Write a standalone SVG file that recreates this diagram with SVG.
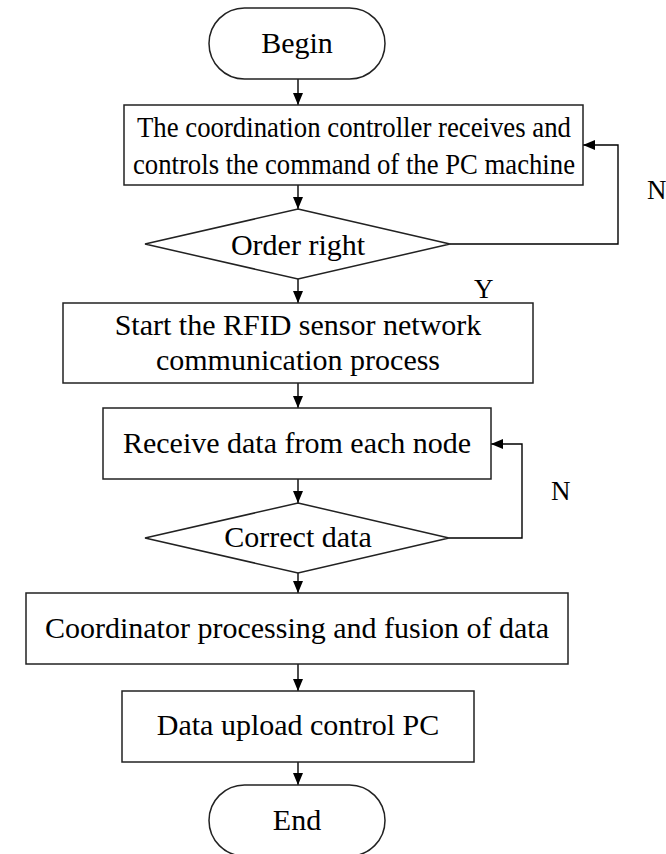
<svg xmlns="http://www.w3.org/2000/svg" width="666" height="854" viewBox="0 0 666 854">
<style>
.n{fill:#fff;stroke:#222;stroke-width:1.5}
.c{fill:none;stroke:#000;stroke-width:1.4}
text{font-family:"Liberation Serif","Times New Roman",serif;font-size:30px;fill:#000;text-anchor:middle}
.l{font-size:27px;text-anchor:start}
.s{font-size:29px}
</style>
<defs>
<marker id="ah" viewBox="0 0 12 10" refX="12" refY="5" markerWidth="12" markerHeight="10" markerUnits="userSpaceOnUse" orient="auto">
<path d="M0,0 L12,5 L0,10 Z" fill="#000"/>
</marker>
</defs>
<rect width="666" height="854" fill="#fff"/>
<g id="connectors">
<line class="c" x1="298" y1="79" x2="298" y2="105" marker-end="url(#ah)"/>
<line class="c" x1="298" y1="185" x2="298" y2="209" marker-end="url(#ah)"/>
<line class="c" x1="298" y1="279" x2="298" y2="303" marker-end="url(#ah)"/>
<line class="c" x1="298" y1="383" x2="298" y2="408" marker-end="url(#ah)"/>
<line class="c" x1="298" y1="479" x2="298" y2="503" marker-end="url(#ah)"/>
<line class="c" x1="298" y1="573" x2="298" y2="593" marker-end="url(#ah)"/>
<line class="c" x1="298" y1="664" x2="298" y2="691" marker-end="url(#ah)"/>
<line class="c" x1="298" y1="762" x2="298" y2="785" marker-end="url(#ah)"/>
<polyline class="c" points="450,244 618,244 618,145 583,145" marker-end="url(#ah)"/>
<polyline class="c" points="449,538 522,538 522,444 491,444" marker-end="url(#ah)"/>
<text class="l" x="647" y="199">N</text>
<text class="l" x="474" y="298">Y</text>
<text class="l" x="551" y="500">N</text>
</g>
<g id="begin">
<rect class="n" x="209" y="8" width="176" height="71" rx="35.5"/>
<text x="297" y="53">Begin</text>
</g>
<g id="receive-command">
<rect class="n" x="124" y="105" width="459" height="80"/>
<text class="s" x="354" y="137" textLength="434" lengthAdjust="spacingAndGlyphs">The coordination controller receives and</text>
<text class="s" x="354" y="174" textLength="442" lengthAdjust="spacingAndGlyphs">controls the command of the PC machine</text>
</g>
<g id="order-right">
<polygon class="n" points="298,209 450,244 298,279 145,244"/>
<text x="298" y="255">Order right</text>
</g>
<g id="start-rfid">
<rect class="n" x="63" y="303" width="470" height="80"/>
<text x="298" y="335">Start the RFID sensor network</text>
<text x="298" y="370">communication process</text>
</g>
<g id="receive-data">
<rect class="n" x="103" y="408" width="388" height="71"/>
<text x="297" y="453">Receive data from each node</text>
</g>
<g id="correct-data">
<polygon class="n" points="298,503 449,538 298,573 145,538"/>
<text x="298" y="547">Correct data</text>
</g>
<g id="fusion">
<rect class="n" x="26" y="593" width="542" height="71"/>
<text x="297" y="638">Coordinator processing and fusion of data</text>
</g>
<g id="upload">
<rect class="n" x="122" y="691" width="352" height="71"/>
<text x="298" y="735">Data upload control PC</text>
</g>
<g id="end">
<rect class="n" x="209" y="785" width="176" height="71" rx="35.5"/>
<text x="297" y="830">End</text>
</g>
</svg>
